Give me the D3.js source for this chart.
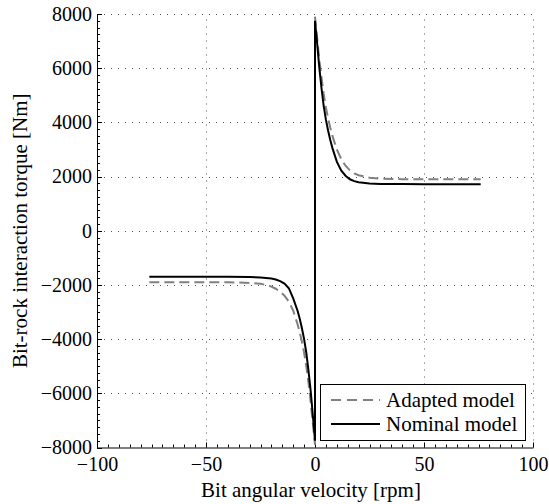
<!DOCTYPE html>
<html>
<head>
<meta charset="utf-8">
<script src="https://cdn.jsdelivr.net/npm/d3@7"></script>
<style>
  svg text { font-family: "Liberation Serif", serif !important; }
</style>
</head>
<body style="margin:0">
<svg id="chart" width="549" height="504"></svg>
<script>
// ---- data ----
const xTicks = [-100, -50, 0, 50, 100];
const yTicks = [-8000, -6000, -4000, -2000, 0, 2000, 4000, 6000, 8000];

// Nominal model (black solid): angular velocity [rpm] and torque [Nm]
const nominalW = [-76, -50, -40, -30, -25, -20, -18, -16, -14, -12, -10, -8, -7, -6, -5, -4, -3, -2, -1, 0,
                  0, 1, 2, 3, 4, 5, 6, 7, 8, 10, 12, 14, 16, 18, 20, 25, 30, 40, 50, 76];
const nominalT = [-1700, -1700, -1702, -1710, -1725, -1765, -1800, -1860, -1950, -2120, -2500, -2950, -3250, -3600, -4000, -4500, -5150, -5900, -6800, -7750,
                  7750, 6900, 6000, 5250, 4600, 4100, 3700, 3350, 3050, 2550, 2230, 2030, 1900, 1830, 1790, 1745, 1730, 1722, 1720, 1720];

// Adapted model (grey dashed)
const adaptedW = [-76, -50, -40, -35, -30, -25, -22, -20, -18, -16, -14, -12, -10, -8, -7, -6, -5, -4, -3, -2, -1, 0,
                  0, 1, 2, 3, 4, 5, 6, 7, 8, 10, 12, 14, 16, 18, 20, 25, 30, 40, 50, 76];
const adaptedT = [-1900, -1900, -1902, -1910, -1925, -1960, -2010, -2060, -2140, -2250, -2400, -2620, -2950, -3450, -3750, -4100, -4500, -5000, -5600, -6300, -7100, -7900,
                  7900, 7100, 6300, 5650, 5050, 4550, 4150, 3800, 3500, 3000, 2650, 2400, 2230, 2120, 2050, 1960, 1925, 1905, 1900, 1900];

const seriesNames = ["Adapted model", "Nominal model"];
const xLabel = "Bit angular velocity [rpm]";
const yLabel = "Bit-rock interaction torque [Nm]";

// ---- layout ----
const FONT = "Liberation Serif";
const svg = d3.select("#chart");
const L = 97, R = 533, T = 14, B = 447.5;
const x = d3.scaleLinear().domain([-100, 100]).range([L, R]);
const y = d3.scaleLinear().domain([-8000, 8000]).range([B, T]);
const fmt = v => (v < 0 ? "\u2212" + Math.abs(v) : String(v));

// grid (dotted)
const grid = svg.append("g").attr("stroke", "#555").attr("stroke-width", 1)
  .attr("stroke-dasharray", "1 6").attr("fill", "none");
xTicks.filter(v => v > -100).forEach(v => {
  grid.append("line").attr("x1", Math.round(x(v)) + 0.5).attr("x2", Math.round(x(v)) + 0.5)
    .attr("y1", B).attr("y2", T);
});
yTicks.filter(v => v > -8000).forEach(v => {
  grid.append("line").attr("x1", L).attr("x2", R)
    .attr("y1", Math.round(y(v)) + 0.5).attr("y2", Math.round(y(v)) + 0.5);
});

// axes
const xAxis = d3.axisBottom(x).tickValues(xTicks).tickFormat(fmt).tickSize(0).tickPadding(9);
const gx = svg.append("g").attr("transform", `translate(0,${B})`).call(xAxis)
  .attr("font-family", FONT).attr("font-size", 20);
gx.select(".domain").attr("stroke", "#000");

const yAxis = d3.axisLeft(y).tickValues(yTicks).tickFormat(fmt).tickSize(0).tickPadding(5);
const gy = svg.append("g").attr("transform", `translate(${L},0)`).call(yAxis)
  .attr("font-family", FONT).attr("font-size", 20);
gy.select(".domain").attr("stroke", "#000");

// minor / major inward ticks
const xMinor = d3.range(-100, 100.1, 5);
svg.append("g").selectAll("line").data(xMinor).join("line")
  .attr("x1", d => Math.round(x(d)) + 0.5).attr("x2", d => Math.round(x(d)) + 0.5)
  .attr("y1", B).attr("y2", d => B - (d % 50 === 0 ? 5 : 3))
  .attr("stroke", "#000").attr("stroke-width", 1);
const yMinor = d3.range(-8000, 8000.1, 250);
svg.append("g").selectAll("line").data(yMinor).join("line")
  .attr("y1", d => Math.round(y(d)) + 0.5).attr("y2", d => Math.round(y(d)) + 0.5)
  .attr("x1", L).attr("x2", d => L + (d % 2000 === 0 ? 5 : 3))
  .attr("stroke", "#000").attr("stroke-width", 1);

// curves
const line = d3.line().x(d => x(d[0])).y(d => y(d[1]));
const adapted = adaptedW.map((w, i) => [w, adaptedT[i]]);
const nominal = nominalW.map((w, i) => [w, nominalT[i]]);
svg.append("path").datum(adapted).attr("d", line).attr("fill", "none")
  .attr("stroke", "#808080").attr("stroke-width", 2).attr("stroke-dasharray", "10 5");
svg.append("path").datum(nominal).attr("d", line).attr("fill", "none")
  .attr("stroke", "#000").attr("stroke-width", 2);

// legend
const lg = svg.append("g");
lg.append("rect").attr("x", 320.5).attr("y", 384.5).attr("width", 205).attr("height", 56)
  .attr("fill", "#fff").attr("stroke", "#000").attr("stroke-width", 1);
const styles = [{ c: "#808080", d: "10 6" }, { c: "#000", d: null }];
seriesNames.forEach((n, i) => {
  const yy = 400 + i * 24;
  const l = lg.append("line").attr("x1", 331).attr("x2", 380).attr("y1", yy).attr("y2", yy)
    .attr("stroke", styles[i].c).attr("stroke-width", 2);
  if (styles[i].d) l.attr("stroke-dasharray", styles[i].d);
  lg.append("text").attr("x", 386).attr("y", yy + 6.5)
    .attr("font-family", FONT).attr("font-size", 21).text(n);
});

// axis titles
svg.append("text").attr("x", (L + R) / 2 - 4).attr("y", 497).attr("text-anchor", "middle")
  .attr("font-family", FONT).attr("font-size", 21).text(xLabel);
svg.append("text").attr("transform", `translate(27,${(T + B) / 2}) rotate(-90)`)
  .attr("text-anchor", "middle").attr("font-family", FONT).attr("font-size", 21).text(yLabel);
</script>
</body>
</html>
